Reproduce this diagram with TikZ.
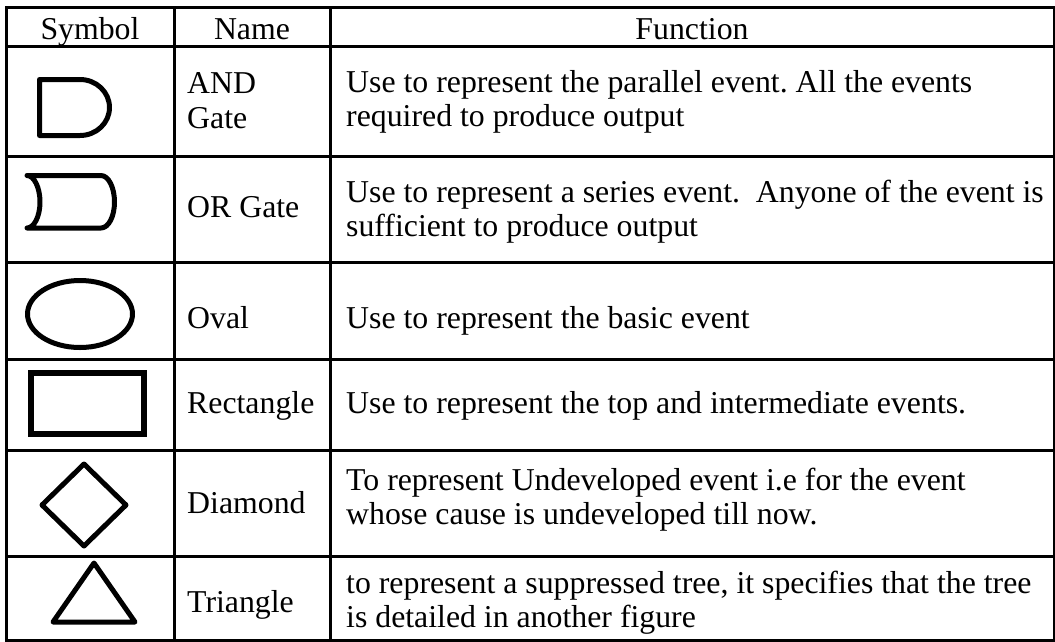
\documentclass[tikz,border=0pt]{standalone}
\usepackage{fontspec}
\setmainfont{Liberation Serif}
\begin{document}
\frenchspacing
\begin{tikzpicture}[x=1pt,y=-1pt,
  tline/.style={line width=3pt},
  shp/.style={line width=5pt, line join=round, line cap=round},
  txt/.style={anchor=base west, inner sep=0pt, font=\fontsize{31.8}{34}\selectfont},
  hdr/.style={anchor=base, inner sep=0pt, font=\fontsize{31.8}{34}\selectfont}]
\useasboundingbox (0,0) rectangle (1055,641);
\clip (0,0) rectangle (1055,641);
% table grid
\draw[tline] (6,7) rectangle (1054,640);
\foreach \yy in {46.5,156,262,359,450,556} \draw[tline] (6,\yy) -- (1054,\yy);
\draw[tline] (174,7) -- (174,640);
\draw[tline] (330,7) -- (330,640);
% header
\node[hdr] (hsym) at (90,39) {Symbol};
\node[hdr] (hname) at (252,39) {Name};
\node[hdr] (hfun) at (692,39) {Function};
% names
\node[txt] (n1a) at (187,93) {AND};
\node[txt] (n1b) at (187,128) {Gate};
\node[txt] (n2) at (187,217) {OR Gate};
\node[txt] (n3) at (187,328) {Oval};
\node[txt] (n4) at (187,413) {Rectangle};
\node[txt] (n5) at (187,513) {Diamond};
\node[txt] (n6) at (187,612) {Triangle};
% functions
\node[txt] (f1a) at (346,92) {Use to represent the parallel event. All the events};
\node[txt] (f1b) at (346,126) {required to produce output};
\node[txt] (f2a) at (346,202) {Use to represent a series event.\ \ Anyone of the event is};
\node[txt] (f2b) at (346,236) {sufficient to produce output};
\node[txt] (f3) at (346,328) {Use to represent the basic event};
\node[txt] (f4) at (346,413) {Use to represent the top and intermediate events.};
\node[txt] (f5a) at (346,490) {To represent Undeveloped event i.e for the event};
\node[txt] (f5b) at (346,524) {whose cause is undeveloped till now.};
\node[txt] (f6a) at (346,593) {to represent a suppressed tree, it specifies that the tree};
\node[txt] (f6b) at (346,627) {is detailed in another figure};
% symbols
% AND gate
\draw[shp] (80,79.5) -- (39.5,79.5) -- (39.5,135.5) -- (80,135.5)
  .. controls (96.3,135.5) and (109.5,123) .. (109.5,107.5)
  .. controls (109.5,92) and (96.3,79.5) .. (80,79.5) -- cycle;
% OR gate
\draw[shp] (27,175.5) -- (101,175.5)
  .. controls (108.5,175.5) and (114.5,187.5) .. (114.5,202)
  .. controls (114.5,216.5) and (108.5,228) .. (101,228) -- (27,228)
  .. controls (34,228) and (40,216.5) .. (40,202)
  .. controls (40,187.5) and (34,175.5) .. (27,175.5) -- cycle;
% Oval
\draw[shp] (80,314) ellipse [x radius=52.5, y radius=33.5];
% Rectangle
\draw[line width=6pt] (31,373) rectangle (144,434);
% Diamond
\draw[shp] (84,464) -- (126,505) -- (84,546) -- (42,505) -- cycle;
% Triangle
\draw[shp] (94,563) -- (135,622) -- (53,622) -- cycle;
\end{tikzpicture}
\end{document}
